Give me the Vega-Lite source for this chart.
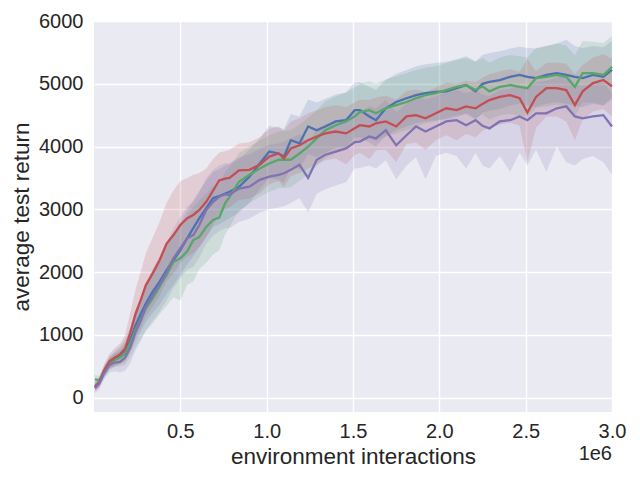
{
  "$schema": "https://vega.github.io/schema/vega-lite/v6.json",
  "width": 518,
  "height": 391,
  "autosize": {"type": "none"},
  "padding": {"left": 94, "top": 21, "right": 28, "bottom": 68},
  "background": "white",
  "config": {
    "view": {"fill": "#EAEAF2", "stroke": null},
    "axis": {
      "domain": false,
      "ticks": false,
      "tickSize": 0,
      "gridColor": "#FFFFFF",
      "gridWidth": 1.4,
      "labelFont": "Liberation Sans",
      "labelFontSize": 20,
      "labelColor": "#262626",
      "titleFont": "Liberation Sans",
      "titleFontSize": 22.5,
      "titleFontWeight": "normal",
      "titleColor": "#262626"
    }
  },
  "datasets": {
    "runs": [
      {"x":5000,"s":"s1","m":180,"lo":110,"hi":250},
      {"x":30000,"s":"s1","m":240,"lo":170,"hi":320},
      {"x":60000,"s":"s1","m":430,"lo":340,"hi":520},
      {"x":90000,"s":"s1","m":560,"lo":460,"hi":660},
      {"x":120000,"s":"s1","m":620,"lo":510,"hi":740},
      {"x":150000,"s":"s1","m":680,"lo":550,"hi":820},
      {"x":180000,"s":"s1","m":760,"lo":590,"hi":930},
      {"x":210000,"s":"s1","m":920,"lo":720,"hi":1120},
      {"x":240000,"s":"s1","m":1150,"lo":900,"hi":1400},
      {"x":270000,"s":"s1","m":1330,"lo":1050,"hi":1600},
      {"x":300000,"s":"s1","m":1500,"lo":1200,"hi":1800},
      {"x":340000,"s":"s1","m":1690,"lo":1350,"hi":2030},
      {"x":380000,"s":"s1","m":1850,"lo":1480,"hi":2220},
      {"x":420000,"s":"s1","m":2030,"lo":1650,"hi":2420},
      {"x":460000,"s":"s1","m":2190,"lo":1800,"hi":2600},
      {"x":500000,"s":"s1","m":2350,"lo":1950,"hi":2780},
      {"x":540000,"s":"s1","m":2540,"lo":2120,"hi":2980},
      {"x":575000,"s":"s1","m":2700,"lo":2250,"hi":3150},
      {"x":610000,"s":"s1","m":2860,"lo":2400,"hi":3300},
      {"x":650000,"s":"s1","m":3020,"lo":2560,"hi":3460},
      {"x":690000,"s":"s1","m":3180,"lo":2720,"hi":3600},
      {"x":725000,"s":"s1","m":3210,"lo":2760,"hi":3640},
      {"x":760000,"s":"s1","m":3250,"lo":2820,"hi":3700},
      {"x":785000,"s":"s1","m":3280,"lo":2860,"hi":3720},
      {"x":840000,"s":"s1","m":3360,"lo":2950,"hi":3800},
      {"x":900000,"s":"s1","m":3520,"lo":3100,"hi":3950},
      {"x":960000,"s":"s1","m":3730,"lo":3320,"hi":4130},
      {"x":1015000,"s":"s1","m":3920,"lo":3500,"hi":4330},
      {"x":1070000,"s":"s1","m":3890,"lo":3470,"hi":4300},
      {"x":1100000,"s":"s1","m":3840,"lo":3420,"hi":4280},
      {"x":1140000,"s":"s1","m":4100,"lo":3680,"hi":4520},
      {"x":1190000,"s":"s1","m":4050,"lo":3640,"hi":4480},
      {"x":1240000,"s":"s1","m":4320,"lo":3880,"hi":4750},
      {"x":1290000,"s":"s1","m":4260,"lo":3830,"hi":4700},
      {"x":1340000,"s":"s1","m":4320,"lo":3900,"hi":4760},
      {"x":1400000,"s":"s1","m":4400,"lo":3980,"hi":4830},
      {"x":1460000,"s":"s1","m":4420,"lo":3990,"hi":4860},
      {"x":1510000,"s":"s1","m":4580,"lo":4140,"hi":5020},
      {"x":1540000,"s":"s1","m":4580,"lo":4150,"hi":5030},
      {"x":1595000,"s":"s1","m":4480,"lo":4060,"hi":4950},
      {"x":1633000,"s":"s1","m":4420,"lo":4000,"hi":4900},
      {"x":1690000,"s":"s1","m":4610,"lo":4170,"hi":5060},
      {"x":1750000,"s":"s1","m":4710,"lo":4260,"hi":5160},
      {"x":1810000,"s":"s1","m":4770,"lo":4320,"hi":5220},
      {"x":1865000,"s":"s1","m":4820,"lo":4370,"hi":5280},
      {"x":1920000,"s":"s1","m":4850,"lo":4400,"hi":5310},
      {"x":1980000,"s":"s1","m":4870,"lo":4420,"hi":5330},
      {"x":2040000,"s":"s1","m":4880,"lo":4430,"hi":5350},
      {"x":2100000,"s":"s1","m":4930,"lo":4470,"hi":5390},
      {"x":2155000,"s":"s1","m":4980,"lo":4520,"hi":5440},
      {"x":2210000,"s":"s1","m":4880,"lo":4430,"hi":5360},
      {"x":2250000,"s":"s1","m":5000,"lo":4540,"hi":5460},
      {"x":2290000,"s":"s1","m":5030,"lo":4570,"hi":5490},
      {"x":2350000,"s":"s1","m":5060,"lo":4600,"hi":5520},
      {"x":2410000,"s":"s1","m":5110,"lo":4650,"hi":5560},
      {"x":2465000,"s":"s1","m":5140,"lo":4680,"hi":5590},
      {"x":2510000,"s":"s1","m":5110,"lo":4650,"hi":5570},
      {"x":2560000,"s":"s1","m":5090,"lo":4630,"hi":5560},
      {"x":2620000,"s":"s1","m":5140,"lo":4680,"hi":5600},
      {"x":2680000,"s":"s1","m":5170,"lo":4700,"hi":5640},
      {"x":2735000,"s":"s1","m":5140,"lo":4680,"hi":5700},
      {"x":2785000,"s":"s1","m":5110,"lo":4650,"hi":5600},
      {"x":2830000,"s":"s1","m":5090,"lo":4630,"hi":5570},
      {"x":2890000,"s":"s1","m":5140,"lo":4680,"hi":5600},
      {"x":2950000,"s":"s1","m":5110,"lo":4650,"hi":5580},
      {"x":3000000,"s":"s1","m":5220,"lo":4750,"hi":5680},

      {"x":5000,"s":"s2","m":290,"lo":220,"hi":360},
      {"x":30000,"s":"s2","m":280,"lo":210,"hi":350},
      {"x":60000,"s":"s2","m":400,"lo":310,"hi":490},
      {"x":90000,"s":"s2","m":540,"lo":440,"hi":640},
      {"x":120000,"s":"s2","m":600,"lo":490,"hi":710},
      {"x":150000,"s":"s2","m":640,"lo":500,"hi":780},
      {"x":180000,"s":"s2","m":700,"lo":520,"hi":880},
      {"x":210000,"s":"s2","m":870,"lo":640,"hi":1100},
      {"x":240000,"s":"s2","m":1080,"lo":800,"hi":1360},
      {"x":270000,"s":"s2","m":1240,"lo":930,"hi":1550},
      {"x":300000,"s":"s2","m":1420,"lo":1060,"hi":1780},
      {"x":340000,"s":"s2","m":1580,"lo":1180,"hi":1980},
      {"x":380000,"s":"s2","m":1770,"lo":1330,"hi":2210},
      {"x":420000,"s":"s2","m":1950,"lo":1460,"hi":2420},
      {"x":460000,"s":"s2","m":2160,"lo":1600,"hi":2620},
      {"x":500000,"s":"s2","m":2220,"lo":1550,"hi":2750},
      {"x":540000,"s":"s2","m":2330,"lo":1800,"hi":2880},
      {"x":575000,"s":"s2","m":2510,"lo":1850,"hi":3050},
      {"x":610000,"s":"s2","m":2560,"lo":2050,"hi":3150},
      {"x":650000,"s":"s2","m":2720,"lo":2150,"hi":3250},
      {"x":690000,"s":"s2","m":2830,"lo":2280,"hi":3380},
      {"x":725000,"s":"s2","m":2870,"lo":2350,"hi":3400},
      {"x":760000,"s":"s2","m":3100,"lo":2600,"hi":3600},
      {"x":785000,"s":"s2","m":3200,"lo":2720,"hi":3680},
      {"x":840000,"s":"s2","m":3440,"lo":2980,"hi":3900},
      {"x":900000,"s":"s2","m":3550,"lo":3100,"hi":4000},
      {"x":960000,"s":"s2","m":3650,"lo":3200,"hi":4100},
      {"x":1015000,"s":"s2","m":3730,"lo":3280,"hi":4180},
      {"x":1070000,"s":"s2","m":3790,"lo":3340,"hi":4240},
      {"x":1100000,"s":"s2","m":3790,"lo":3340,"hi":4250},
      {"x":1140000,"s":"s2","m":3790,"lo":3350,"hi":4260},
      {"x":1190000,"s":"s2","m":3890,"lo":3450,"hi":4350},
      {"x":1240000,"s":"s2","m":4000,"lo":3560,"hi":4460},
      {"x":1290000,"s":"s2","m":4130,"lo":3690,"hi":4580},
      {"x":1340000,"s":"s2","m":4260,"lo":3820,"hi":4720},
      {"x":1400000,"s":"s2","m":4340,"lo":3900,"hi":4800},
      {"x":1460000,"s":"s2","m":4400,"lo":3960,"hi":4860},
      {"x":1510000,"s":"s2","m":4480,"lo":4040,"hi":4940},
      {"x":1540000,"s":"s2","m":4550,"lo":4100,"hi":5000},
      {"x":1595000,"s":"s2","m":4580,"lo":4130,"hi":5040},
      {"x":1633000,"s":"s2","m":4530,"lo":4090,"hi":5000},
      {"x":1690000,"s":"s2","m":4610,"lo":4160,"hi":5070},
      {"x":1750000,"s":"s2","m":4660,"lo":4210,"hi":5120},
      {"x":1810000,"s":"s2","m":4710,"lo":4260,"hi":5170},
      {"x":1865000,"s":"s2","m":4770,"lo":4320,"hi":5220},
      {"x":1920000,"s":"s2","m":4820,"lo":4370,"hi":5260},
      {"x":1980000,"s":"s2","m":4850,"lo":4400,"hi":5280},
      {"x":2040000,"s":"s2","m":4900,"lo":4450,"hi":5330},
      {"x":2100000,"s":"s2","m":4950,"lo":4500,"hi":5380},
      {"x":2155000,"s":"s2","m":4980,"lo":4530,"hi":5410},
      {"x":2210000,"s":"s2","m":4900,"lo":4450,"hi":5350},
      {"x":2250000,"s":"s2","m":4960,"lo":4510,"hi":5410},
      {"x":2290000,"s":"s2","m":4880,"lo":4430,"hi":5340},
      {"x":2350000,"s":"s2","m":4950,"lo":4500,"hi":5420},
      {"x":2410000,"s":"s2","m":4980,"lo":4520,"hi":5460},
      {"x":2465000,"s":"s2","m":4950,"lo":4490,"hi":5440},
      {"x":2510000,"s":"s2","m":4930,"lo":4470,"hi":5420},
      {"x":2560000,"s":"s2","m":5090,"lo":4620,"hi":5570},
      {"x":2620000,"s":"s2","m":5110,"lo":4640,"hi":5600},
      {"x":2680000,"s":"s2","m":5140,"lo":4670,"hi":5640},
      {"x":2735000,"s":"s2","m":5110,"lo":4640,"hi":5610},
      {"x":2785000,"s":"s2","m":4950,"lo":4480,"hi":5450},
      {"x":2830000,"s":"s2","m":5170,"lo":4700,"hi":5680},
      {"x":2890000,"s":"s2","m":5170,"lo":4700,"hi":5670},
      {"x":2950000,"s":"s2","m":5140,"lo":4660,"hi":5650},
      {"x":3000000,"s":"s2","m":5270,"lo":4790,"hi":5760},

      {"x":5000,"s":"s3","m":170,"lo":100,"hi":240},
      {"x":30000,"s":"s3","m":240,"lo":160,"hi":320},
      {"x":60000,"s":"s3","m":440,"lo":340,"hi":540},
      {"x":90000,"s":"s3","m":580,"lo":460,"hi":700},
      {"x":120000,"s":"s3","m":640,"lo":500,"hi":790},
      {"x":150000,"s":"s3","m":690,"lo":530,"hi":860},
      {"x":180000,"s":"s3","m":780,"lo":570,"hi":1000},
      {"x":210000,"s":"s3","m":1030,"lo":730,"hi":1350},
      {"x":240000,"s":"s3","m":1330,"lo":950,"hi":1720},
      {"x":270000,"s":"s3","m":1550,"lo":1100,"hi":2000},
      {"x":300000,"s":"s3","m":1790,"lo":1300,"hi":2300},
      {"x":340000,"s":"s3","m":1980,"lo":1450,"hi":2550},
      {"x":380000,"s":"s3","m":2190,"lo":1620,"hi":2800},
      {"x":420000,"s":"s3","m":2450,"lo":1850,"hi":3100},
      {"x":460000,"s":"s3","m":2590,"lo":1980,"hi":3300},
      {"x":500000,"s":"s3","m":2750,"lo":2150,"hi":3450},
      {"x":540000,"s":"s3","m":2860,"lo":2250,"hi":3500},
      {"x":575000,"s":"s3","m":2910,"lo":2300,"hi":3550},
      {"x":610000,"s":"s3","m":2990,"lo":2400,"hi":3580},
      {"x":650000,"s":"s3","m":3120,"lo":2550,"hi":3650},
      {"x":690000,"s":"s3","m":3300,"lo":2750,"hi":3800},
      {"x":725000,"s":"s3","m":3460,"lo":2950,"hi":3900},
      {"x":760000,"s":"s3","m":3490,"lo":3000,"hi":3930},
      {"x":785000,"s":"s3","m":3500,"lo":3030,"hi":3950},
      {"x":840000,"s":"s3","m":3620,"lo":3150,"hi":4050},
      {"x":900000,"s":"s3","m":3630,"lo":3170,"hi":4070},
      {"x":960000,"s":"s3","m":3710,"lo":3260,"hi":4150},
      {"x":1015000,"s":"s3","m":3840,"lo":3400,"hi":4280},
      {"x":1070000,"s":"s3","m":3890,"lo":3450,"hi":4320},
      {"x":1100000,"s":"s3","m":3810,"lo":3350,"hi":4250},
      {"x":1140000,"s":"s3","m":3970,"lo":3530,"hi":4400},
      {"x":1190000,"s":"s3","m":4020,"lo":3580,"hi":4450},
      {"x":1240000,"s":"s3","m":4100,"lo":3650,"hi":4530},
      {"x":1290000,"s":"s3","m":4160,"lo":3720,"hi":4580},
      {"x":1340000,"s":"s3","m":4210,"lo":3780,"hi":4630},
      {"x":1400000,"s":"s3","m":4240,"lo":3810,"hi":4660},
      {"x":1460000,"s":"s3","m":4210,"lo":3720,"hi":4630},
      {"x":1510000,"s":"s3","m":4290,"lo":3860,"hi":4700},
      {"x":1540000,"s":"s3","m":4340,"lo":3900,"hi":4750},
      {"x":1595000,"s":"s3","m":4320,"lo":3800,"hi":4740},
      {"x":1633000,"s":"s3","m":4370,"lo":3940,"hi":4780},
      {"x":1690000,"s":"s3","m":4400,"lo":3950,"hi":4810},
      {"x":1750000,"s":"s3","m":4320,"lo":3750,"hi":4750},
      {"x":1810000,"s":"s3","m":4480,"lo":4040,"hi":4890},
      {"x":1865000,"s":"s3","m":4500,"lo":4060,"hi":4910},
      {"x":1920000,"s":"s3","m":4450,"lo":3950,"hi":4870},
      {"x":1980000,"s":"s3","m":4530,"lo":4100,"hi":4940},
      {"x":2040000,"s":"s3","m":4610,"lo":4180,"hi":5020},
      {"x":2100000,"s":"s3","m":4580,"lo":4100,"hi":5000},
      {"x":2155000,"s":"s3","m":4640,"lo":4200,"hi":5050},
      {"x":2210000,"s":"s3","m":4610,"lo":4150,"hi":5030},
      {"x":2250000,"s":"s3","m":4680,"lo":4250,"hi":5100},
      {"x":2290000,"s":"s3","m":4740,"lo":4300,"hi":5150},
      {"x":2350000,"s":"s3","m":4790,"lo":4350,"hi":5200},
      {"x":2410000,"s":"s3","m":4820,"lo":4380,"hi":5230},
      {"x":2465000,"s":"s3","m":4770,"lo":4330,"hi":5190},
      {"x":2510000,"s":"s3","m":4540,"lo":3750,"hi":5400},
      {"x":2560000,"s":"s3","m":4790,"lo":4300,"hi":5200},
      {"x":2620000,"s":"s3","m":4930,"lo":4480,"hi":5330},
      {"x":2680000,"s":"s3","m":4930,"lo":4480,"hi":5340},
      {"x":2735000,"s":"s3","m":4900,"lo":4400,"hi":5320},
      {"x":2785000,"s":"s3","m":4660,"lo":4100,"hi":5150},
      {"x":2830000,"s":"s3","m":4880,"lo":4430,"hi":5300},
      {"x":2890000,"s":"s3","m":5010,"lo":4560,"hi":5420},
      {"x":2950000,"s":"s3","m":5060,"lo":4600,"hi":5470},
      {"x":3000000,"s":"s3","m":4960,"lo":4480,"hi":5400},

      {"x":5000,"s":"s4","m":150,"lo":70,"hi":230},
      {"x":30000,"s":"s4","m":220,"lo":130,"hi":310},
      {"x":60000,"s":"s4","m":400,"lo":300,"hi":500},
      {"x":90000,"s":"s4","m":520,"lo":400,"hi":640},
      {"x":120000,"s":"s4","m":560,"lo":420,"hi":700},
      {"x":150000,"s":"s4","m":570,"lo":400,"hi":740},
      {"x":180000,"s":"s4","m":640,"lo":430,"hi":850},
      {"x":210000,"s":"s4","m":800,"lo":550,"hi":1050},
      {"x":240000,"s":"s4","m":1040,"lo":750,"hi":1330},
      {"x":270000,"s":"s4","m":1220,"lo":900,"hi":1560},
      {"x":300000,"s":"s4","m":1450,"lo":1080,"hi":1830},
      {"x":340000,"s":"s4","m":1630,"lo":1230,"hi":2050},
      {"x":380000,"s":"s4","m":1800,"lo":1370,"hi":2250},
      {"x":420000,"s":"s4","m":2000,"lo":1550,"hi":2470},
      {"x":460000,"s":"s4","m":2220,"lo":1750,"hi":2700},
      {"x":500000,"s":"s4","m":2380,"lo":1900,"hi":2880},
      {"x":540000,"s":"s4","m":2540,"lo":2040,"hi":3050},
      {"x":575000,"s":"s4","m":2590,"lo":2080,"hi":3120},
      {"x":610000,"s":"s4","m":2750,"lo":2230,"hi":3270},
      {"x":650000,"s":"s4","m":2990,"lo":2450,"hi":3500},
      {"x":690000,"s":"s4","m":3120,"lo":2580,"hi":3630},
      {"x":725000,"s":"s4","m":3200,"lo":2650,"hi":3700},
      {"x":760000,"s":"s4","m":3240,"lo":2700,"hi":3740},
      {"x":785000,"s":"s4","m":3230,"lo":2700,"hi":3740},
      {"x":840000,"s":"s4","m":3330,"lo":2800,"hi":3830},
      {"x":900000,"s":"s4","m":3360,"lo":2850,"hi":3870},
      {"x":960000,"s":"s4","m":3470,"lo":2950,"hi":3970},
      {"x":1015000,"s":"s4","m":3520,"lo":3000,"hi":4030},
      {"x":1070000,"s":"s4","m":3550,"lo":3030,"hi":4050},
      {"x":1100000,"s":"s4","m":3575,"lo":3050,"hi":4080},
      {"x":1140000,"s":"s4","m":3630,"lo":3100,"hi":4130},
      {"x":1190000,"s":"s4","m":3710,"lo":3180,"hi":4200},
      {"x":1240000,"s":"s4","m":3500,"lo":2950,"hi":4050},
      {"x":1290000,"s":"s4","m":3790,"lo":3250,"hi":4280},
      {"x":1340000,"s":"s4","m":3870,"lo":3320,"hi":4360},
      {"x":1400000,"s":"s4","m":3920,"lo":3380,"hi":4400},
      {"x":1460000,"s":"s4","m":3970,"lo":3430,"hi":4460},
      {"x":1510000,"s":"s4","m":4070,"lo":3650,"hi":4550},
      {"x":1540000,"s":"s4","m":4080,"lo":3660,"hi":4560},
      {"x":1595000,"s":"s4","m":4160,"lo":3700,"hi":4640},
      {"x":1633000,"s":"s4","m":4130,"lo":3650,"hi":4610},
      {"x":1690000,"s":"s4","m":4260,"lo":3780,"hi":4740},
      {"x":1750000,"s":"s4","m":4020,"lo":3480,"hi":4550},
      {"x":1810000,"s":"s4","m":4180,"lo":3700,"hi":4680},
      {"x":1865000,"s":"s4","m":4320,"lo":3830,"hi":4800},
      {"x":1920000,"s":"s4","m":4240,"lo":3480,"hi":4750},
      {"x":1980000,"s":"s4","m":4320,"lo":3850,"hi":4800},
      {"x":2040000,"s":"s4","m":4400,"lo":3900,"hi":4880},
      {"x":2100000,"s":"s4","m":4420,"lo":3850,"hi":4900},
      {"x":2155000,"s":"s4","m":4340,"lo":3650,"hi":4850},
      {"x":2210000,"s":"s4","m":4420,"lo":3900,"hi":4900},
      {"x":2250000,"s":"s4","m":4330,"lo":3700,"hi":4830},
      {"x":2290000,"s":"s4","m":4290,"lo":3650,"hi":4800},
      {"x":2350000,"s":"s4","m":4400,"lo":3850,"hi":4900},
      {"x":2410000,"s":"s4","m":4420,"lo":3600,"hi":4920},
      {"x":2465000,"s":"s4","m":4480,"lo":3900,"hi":4980},
      {"x":2510000,"s":"s4","m":4420,"lo":3700,"hi":4930},
      {"x":2560000,"s":"s4","m":4530,"lo":3950,"hi":5030},
      {"x":2620000,"s":"s4","m":4530,"lo":3600,"hi":5050},
      {"x":2680000,"s":"s4","m":4610,"lo":4000,"hi":5100},
      {"x":2735000,"s":"s4","m":4640,"lo":3750,"hi":5150},
      {"x":2785000,"s":"s4","m":4480,"lo":3700,"hi":5000},
      {"x":2830000,"s":"s4","m":4450,"lo":3800,"hi":4980},
      {"x":2890000,"s":"s4","m":4480,"lo":3850,"hi":5000},
      {"x":2950000,"s":"s4","m":4500,"lo":3750,"hi":5020},
      {"x":3000000,"s":"s4","m":4320,"lo":3550,"hi":4850}
    ],
    "offset": [{"label": "1e6", "x": 3000000, "y": -1000}]
  },
  "encoding": {
    "x": {
      "field": "x",
      "type": "quantitative",
      "scale": {"domain": [0, 3000000], "nice": false, "zero": false},
      "axis": {
        "title": "environment interactions",
        "values": [500000, 1000000, 1500000, 2000000, 2500000, 3000000],
        "labelExpr": "format(datum.value / 1000000, '.1f')",
        "labelFlush": false,
        "labelOverlap": false,
        "labelBound": false,
        "labelPadding": 9,
        "titlePadding": 4
      }
    },
    "y": {
      "type": "quantitative",
      "scale": {"domain": [-228, 6000], "nice": false, "zero": false},
      "axis": {
        "title": "average test return",
        "values": [0, 1000, 2000, 3000, 4000, 5000, 6000],
        "format": "d",
        "labelPadding": 11,
        "titlePadding": 5
      }
    }
  },
  "layer": [
    {
      "data": {"name": "runs"},
      "mark": {"type": "area", "opacity": 0.18},
      "encoding": {
        "y": {"field": "lo", "stack": null},
        "y2": {"field": "hi"},
        "color": {
          "field": "s",
          "type": "nominal",
          "scale": {"domain": ["s1", "s2", "s3", "s4"], "range": ["#4C72B0", "#55A868", "#C44E52", "#8172B2"]},
          "legend": null
        }
      }
    },
    {
      "data": {"name": "runs"},
      "mark": {"type": "line", "strokeWidth": 2.3},
      "encoding": {
        "y": {"field": "m"},
        "color": {"field": "s", "type": "nominal", "legend": null}
      }
    },
    {
      "data": {"name": "offset"},
      "mark": {"type": "text", "align": "right", "baseline": "alphabetic", "font": "Liberation Sans", "fontSize": 20, "color": "#262626", "clip": false},
      "encoding": {
        "y": {"field": "y"},
        "text": {"field": "label"}
      }
    }
  ]
}
